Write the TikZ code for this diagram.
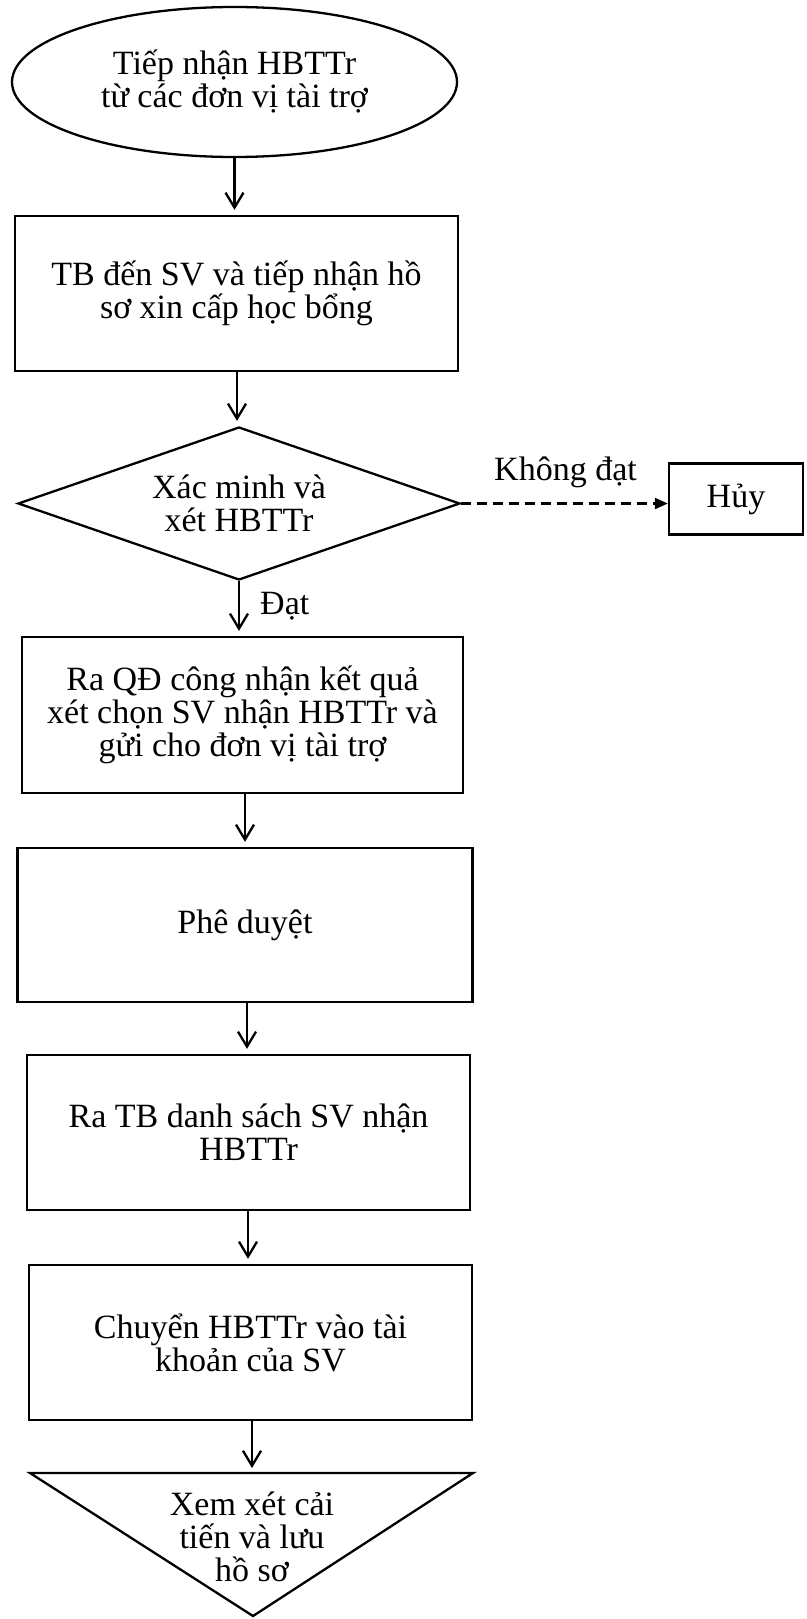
\documentclass[tikz,border=0pt]{standalone}
\usepackage{fontspec}
\setmainfont{Liberation Serif}
\usetikzlibrary{shapes.geometric,arrows.meta}
\begin{document}
\begin{tikzpicture}[x=1pt,y=-1pt,
  every node/.style={font=\fontsize{34}{33}\selectfont, align=center, inner sep=0pt},
  ln/.style={line width=2.3pt},
  procbox/.style={draw, ln, rectangle, minimum width=443pt, minimum height=155pt},
  arr/.style={ln, -{Straight Barb[length=15pt,width=18pt]}, shorten >=5pt},
  darr/.style={ln, dash pattern=on 10pt off 6pt, -{Triangle[length=13pt,width=11pt]}},
]
\useasboundingbox (0,0) rectangle (806,1619);
\fill[white] (0,0) rectangle (806,1619);

\node[draw, ln, ellipse, minimum width=445pt, minimum height=150pt] (ell) at (234.5,82)
  {Tiếp nhận HBTTr\\từ các đơn vị tài trợ};
\node[procbox] (b1) at (236.5,293.5) {TB đến SV và tiếp nhận hồ\\sơ xin cấp học bổng};
\node[draw, ln, diamond, aspect=2.9, minimum width=442pt, minimum height=153pt] (dia) at (239,503.5)
  {Xác minh và\\xét HBTTr};
\node[draw, ln, rectangle, minimum width=134pt, minimum height=71pt] (huy) at (736,499) {Hủy};
\node[procbox, minimum width=441pt, minimum height=156pt] (b2) at (242.5,715)
  {Ra QĐ công nhận kết quả\\xét chọn SV nhận HBTTr và\\gửi cho đơn vị tài trợ};
\node[procbox, minimum width=455pt, minimum height=154pt] (b3) at (245,925) {Phê duyệt};
\node[procbox] (b4) at (248.5,1132.5) {Ra TB danh sách SV nhận\\HBTTr};
\node[procbox] (b5) at (250.5,1342.5) {Chuyển HBTTr vào tài\\khoản của SV};

\draw[ln, line join=miter] (30,1473) -- (473,1473) -- (253,1616) -- cycle;
\coordinate (tritop) at (252,1473);
\node (tri) at (252,1537) {Xem xét cải\\tiến và lưu\\hồ sơ};

\node[anchor=base] (khong) at (565.5,480) {Không đạt};
\node[anchor=base west] (dat) at (260,614) {Đạt};

\draw[arr] (ell.south) -- (ell.south |- b1.north);
\draw[arr] (b1.south -| 237,0) -- (237,0 |- dia.north);
\draw[darr] (dia.east) -- (dia.east -| huy.west);
\draw[arr] (dia.south) -- (dia.south |- b2.north);
\draw[arr] (b2.south -| 245,0) -- (245,0 |- b3.north);
\draw[arr] (b3.south -| 247,0) -- (247,0 |- b4.north);
\draw[arr] (b4.south -| 248,0) -- (248,0 |- b5.north);
\draw[arr] (b5.south -| tritop) -- (tritop);
\end{tikzpicture}
\end{document}
